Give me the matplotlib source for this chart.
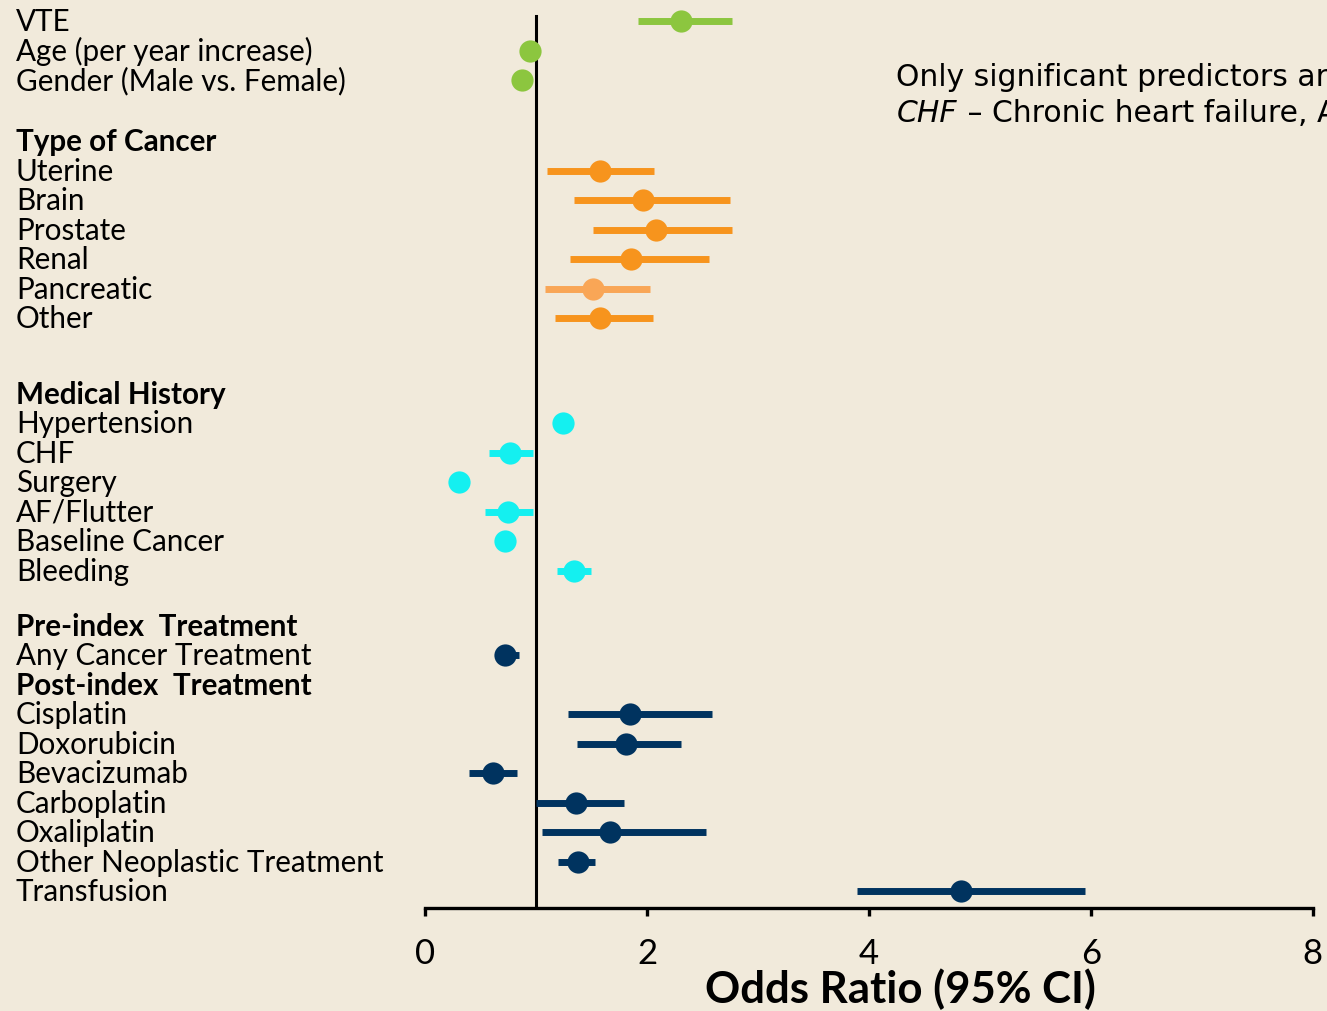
import matplotlib as mpl
from matplotlib import pyplot as plt
from matplotlib import transforms

# values
general = ["VTE", "Age (per year increase)", "Gender (Male vs. Female)"]
general_or = [2.31, 0.95, 0.87]
general_lo = [1.92, 0.94, 0.86]
general_hi = [2.77, 0.96, 0.88]

cancer = ["Uterine", "Brain", "Prostate", "Renal", "Pancreatic", "Other"]
cancer_or = [1.58, 1.96, 2.08, 1.86, 1.51, 1.58]
cancer_lo = [1.10, 1.34, 1.51, 1.31, 1.08, 1.17]
cancer_hi = [2.06, 2.75, 2.77, 2.56, 2.03, 2.05]

history = ["Hypertension", "CHF", "Surgery", "AF/Flutter", "Baseline Cancer", "Bleeding"]
history_or = [1.24, 0.77, 0.31, 0.75, 0.72, 1.34]
history_lo = [1.22, 0.58, 0.30, 0.54, 0.71, 1.19]
history_hi = [1.26, 0.97, 0.32, 0.97, 0.73, 1.50]

pre_tx = ["Any Cancer Treatment"]
pre_or = [0.72]
pre_lo = [0.70]
pre_hi = [0.85]

post_tx = ["Cisplatin", "Doxorubicin", "Bevacizumab", "Carboplatin", "Oxaliplatin",
           "Other Neoplastic Treatment", "Transfusion"]
post_or = [1.85, 1.81, 0.61, 1.36, 1.67, 1.38, 4.83]
post_lo = [1.29, 1.37, 0.40, 1.00, 1.05, 1.20, 3.89]
post_hi = [2.59, 2.31, 0.83, 1.79, 2.53, 1.53, 5.95]

x_ticks = [0, 2, 4, 6, 8]

bg = "#f1eadb"
green = "#8cc63f"
orange = "#f7941d"
light_orange = "#f9a656"
cyan = "#14f0f0"
navy = "#00335f"

# (header, labels, or, lo, hi, colours, extra gap before block)
blocks = [
    (None, general, general_or, general_lo, general_hi, [green] * 3, 0),
    ("Type of Cancer", cancer, cancer_or, cancer_lo, cancer_hi,
     [orange] * 4 + [light_orange, orange], 1.07),
    ("Medical History", history, history_or, history_lo, history_hi, [cyan] * 6, 1.57),
    ("Pre-index  Treatment", pre_tx, pre_or, pre_lo, pre_hi, [navy], 0.86),
    ("Post-index  Treatment", post_tx, post_or, post_lo, post_hi, [navy] * 7, 0),
]

mpl.rcParams['font.family'] = ['Lato', 'DejaVu Sans']

fig = plt.figure(figsize=(13.27, 10.12), dpi=100, facecolor=bg)
ax = fig.add_axes([0.3203, 0.1018, 0.669, 0.8883])
ax.set_facecolor(bg)

lab_trans = transforms.blended_transform_factory(fig.transFigure, ax.transData)
lab_x = 16 / 1327
fs = 21.3

row = -1.0
for header, labels, ors, los, his, cols, gap in blocks:
    row += gap
    if header is not None:
        row += 1
        ax.text(lab_x, row, header, transform=lab_trans, fontsize=fs,
                fontweight='bold', va='center', ha='left', clip_on=False)
    for i in range(len(labels)):
        row += 1
        ax.text(lab_x, row, labels[i], transform=lab_trans, fontsize=fs,
                va='center', ha='left', clip_on=False)
        ax.plot([los[i], his[i]], [row, row], color=cols[i], lw=5,
                solid_capstyle='butt', zorder=3)
        ax.plot(ors[i], row, 'o', color=cols[i], ms=16, mec='none', zorder=4)

ax.axvline(1, ymin=0, ymax=0.992, color='black', lw=2.2, zorder=2)

ax.set_xlim(0, 8)
ax.set_ylim(30.07, -0.41)
ax.set_xticks(x_ticks)
ax.set_yticks([])
for s in ['top', 'right', 'left']:
    ax.spines[s].set_visible(False)
ax.spines['bottom'].set_linewidth(2.4)
ax.tick_params(axis='x', direction='out', length=6, width=2.4, labelsize=25, pad=15)

fig.text(900 / 1327, 9 / 1012, "Odds Ratio (95% CI)", fontsize=31.5,
         fontweight='bold', ha='center', va='baseline')

# note at top right runs off the right edge, as in the source slide
note_fs = 21.5
fig.text(896 / 1327, 1 - 77 / 1012, "Only significant predictors are shown",
         family='DejaVu Sans', fontsize=note_fs, va='center', ha='left')
chf = fig.text(897 / 1327, 1 - 114 / 1012, "CHF", family='DejaVu Sans', style='italic',
               fontsize=note_fs, va='center', ha='left')
ax.annotate(" \u2013 Chronic heart failure, AF \u2013 Atrial fibrillation",
            xy=(1, 0.5), xycoords=chf, va='center', ha='left',
            family='DejaVu Sans', fontsize=note_fs, annotation_clip=False)

fig.savefig("out.png", dpi=100, facecolor=bg)
